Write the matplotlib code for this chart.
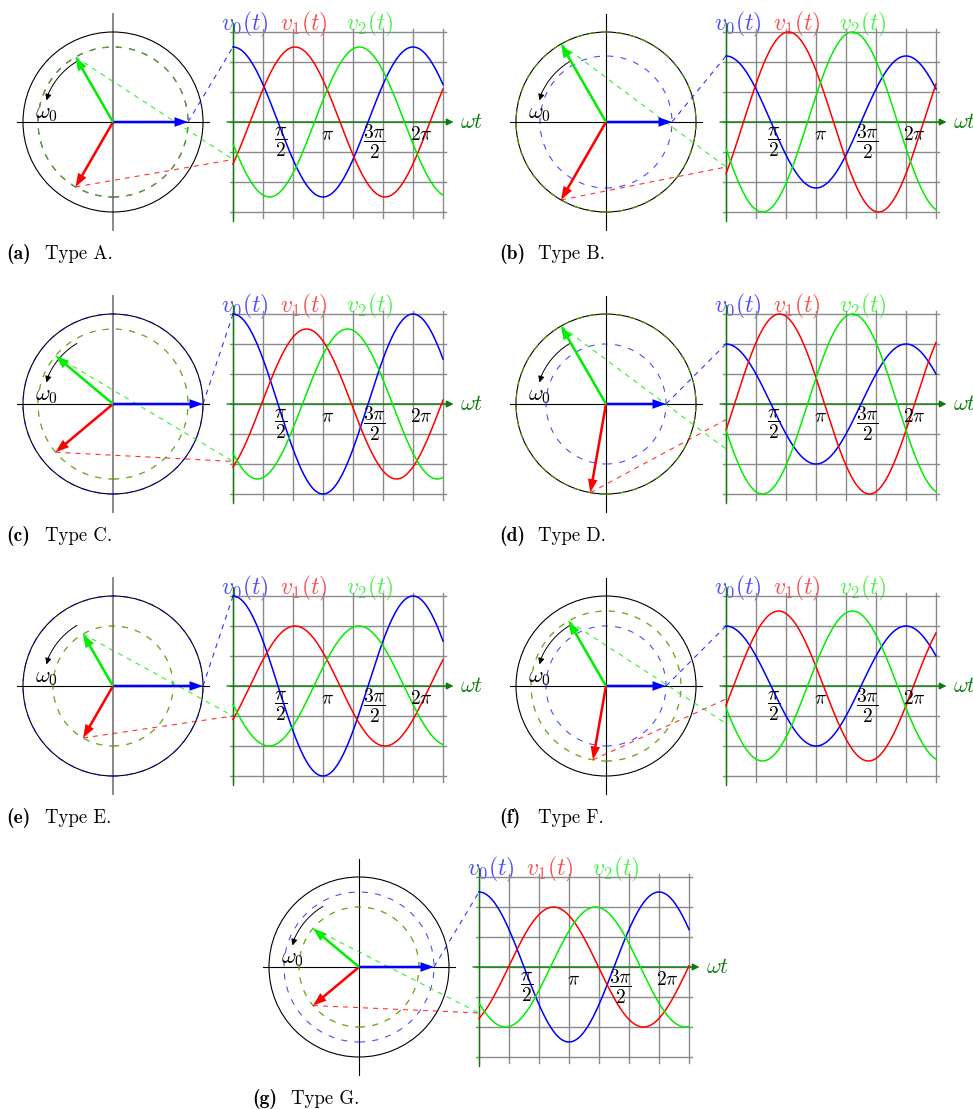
import numpy as np
import matplotlib.pyplot as plt
from matplotlib.patches import Circle

plt.rcParams['mathtext.fontset'] = 'cm'

# panel names
letters = ['a', 'b', 'c', 'd', 'e', 'f', 'g']
types = ['A', 'B', 'C', 'D', 'E', 'F', 'G']

# amplitudes of v0, v1, v2 (grid units)
amp0 = [2.5, 2.2, 3.0, 2.0, 3.0, 2.0, 2.5]
amp1 = [2.5, 3.0, 2.5, 3.0, 2.0, 2.5, 2.0]
amp2 = [2.5, 3.0, 2.5, 3.0, 2.0, 2.5, 2.0]

# phasor angles (deg) of v1, v2 in the circle diagram (v0 is at 0)
ang1 = [240, 240, 220, 260, 240, 260, 220]
ang2 = [120, 120, 140, 120, 120, 120, 140]

# phases (deg) of the plotted v1, v2 waveforms
ph1 = [236, 235, 213, 253, 236, 255, 211]
ph2 = [107, 107, 131, 107, 108, 107, 127]

# tick labels on the wt axis
tick_vals = [np.pi / 2, np.pi, 3 * np.pi / 2, 2 * np.pi]
tick_labels = [r'$\dfrac{\pi}{2}$', r'$\pi$', r'$\dfrac{3\pi}{2}$', r'$2\pi$']

# layout (pixel position of each circle centre), 30 px per grid unit
centers_px = [(113, 122), (606, 122), (113, 404), (606, 404),
              (113, 686), (606, 686), (359, 967)]
vaxis_col = ['#808080', 'black', '#808080', 'black', '#808080', 'black', 'black']

W, H, U = 973, 1109, 30.0
BLUE, RED, GREEN, DKGREEN = '#0000ff', '#ff0000', '#00ee00', '#0a7d0a'
GRID = '#8a8a8a'
DASH = (0, (5.5, 6.5))

fig = plt.figure(figsize=(W / 100, H / 100), dpi=100)
ax = fig.add_axes([0, 0, 1, 1])
ax.set_xlim(0, W / U)
ax.set_ylim(-H / U, 0)
ax.axis('off')


def draw_panel(i, cx, cy):
    a = [amp0[i], amp1[i], amp2[i]]
    ang = [0, ang1[i], ang2[i]]
    ph = [0, ph1[i], ph2[i]]
    cols = [BLUE, RED, GREEN]

    # circle diagram
    ax.plot([cx - 3.2, cx + 3.2], [cy, cy], color='black', lw=0.8, zorder=2)
    ax.plot([cx, cx], [cy - 3.6, cy + 3.6], color=vaxis_col[i],
            lw=1.3 if vaxis_col[i] != 'black' else 0.8, zorder=2)
    ax.add_patch(Circle((cx, cy), 3, fill=False, ec='black', lw=0.8, zorder=2))
    for k in range(3):
        ax.add_patch(Circle((cx, cy), a[k], fill=False, ec=cols[k], lw=0.8,
                            ls=DASH, alpha=0.7, zorder=3))

    ox, oy = cx + 4, cy
    for k in range(3):
        t = np.deg2rad(ang[k])
        tx, ty = cx + a[k] * np.cos(t), cy + a[k] * np.sin(t)
        # connector to the start of the waveform
        ax.plot([tx, ox], [ty, oy + a[k] * np.cos(t)], color=cols[k], lw=0.8,
                ls=(0, (4.5, 4.5)), alpha=0.8, zorder=3)
        ax.arrow(cx, cy, tx - cx, ty - cy, width=0.085, head_width=0.32,
                 head_length=0.45, length_includes_head=True, color=cols[k],
                 lw=0, zorder=5)

    # rotation arrow
    th = np.deg2rad(np.linspace(121, 160, 40))
    ax.plot(cx + 2.35 * np.cos(th), cy + 2.35 * np.sin(th), color='black', lw=0.7, zorder=4)
    te = np.deg2rad(np.array([156, 162]))
    ax.annotate('', xy=(cx + 2.33 * np.cos(te[1]), cy + 2.33 * np.sin(te[1])),
                xytext=(cx + 2.35 * np.cos(te[0]), cy + 2.35 * np.sin(te[0])),
                arrowprops=dict(arrowstyle='-|>', color='black', lw=0.7,
                                mutation_scale=9, shrinkA=0, shrinkB=0), zorder=4)
    ax.text(cx - 2.22, cy + 0.28, r'$\omega_0$', fontsize=16, ha='center',
            va='center', zorder=6)

    # waveform grid
    for k in range(8):
        ax.plot([ox + k, ox + k], [oy - 3.2, oy + 3.1], color=GRID, lw=1.0, zorder=2)
    for j in range(-3, 4):
        ax.plot([ox - 0.1, ox + 7.1], [oy + j, oy + j], color=GRID, lw=1.0, zorder=2)
    ax.plot([ox, ox], [oy - 3.3, oy + 3.3], color=DKGREEN, lw=1.0, zorder=3)
    ax.annotate('', xy=(ox + 7.35, oy), xytext=(ox - 0.2, oy),
                arrowprops=dict(arrowstyle='-|>', color=DKGREEN, lw=1.0,
                                mutation_scale=10, shrinkA=0, shrinkB=0), zorder=3)
    ax.text(ox + 7.55, oy, r'$\omega t$', fontsize=16, color=DKGREEN,
            ha='left', va='center')

    x = np.linspace(0, 7, 400)
    for k in range(3):
        ax.plot(ox + x, oy + a[k] * np.cos(np.deg2rad(60 * x + ph[k])),
                color=cols[k], lw=1.1, zorder=4)

    for val, lab in zip(tick_vals, tick_labels):
        yy = -0.65 if 'frac' in lab else -0.43
        ax.text(ox + val, oy + yy, lab, fontsize=14, ha='center', va='center', zorder=6)

    for k, xl in enumerate([0.4, 2.37, 4.57]):
        ax.text(ox + xl, oy + 3.25, r'$v_%d(t)$' % k, fontsize=17, color=cols[k],
                alpha=0.7, ha='center', va='center', zorder=1)

    ax.text(cx - 3.55, cy - 4.4, '(%s)' % letters[i], fontsize=14, family='cmb10',
            ha='left', va='center')
    ax.text(cx - 3.55 + 1.27, cy - 4.4, 'Type %s.' % types[i], fontsize=13.5,
            family='cmr10', ha='left', va='center')


for i, (px, py) in enumerate(centers_px):
    draw_panel(i, px / U, -py / U)

fig.savefig('out.png', dpi=100)
